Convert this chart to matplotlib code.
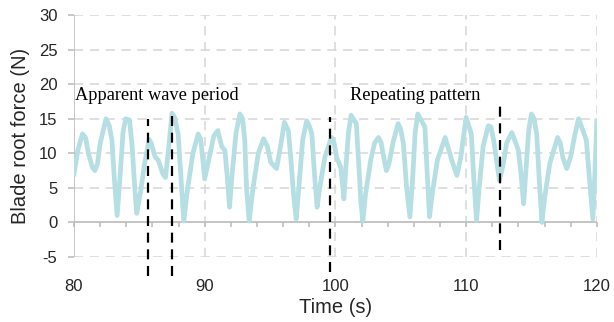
import matplotlib
matplotlib.use("Agg")
import matplotlib.pyplot as plt

plt.rcParams["axes.unicode_minus"] = False

# Data
time_s = [80.0, 80.3, 80.65, 80.9, 81.1, 81.4, 81.6, 81.8, 82.0, 82.45, 82.7, 82.9, 83.1, 83.3, 83.5,
          83.75, 83.95, 84.25, 84.45, 84.65, 84.8, 85.1, 85.4, 85.75, 85.9, 86.2, 86.45, 86.8, 87.0,
          87.2, 87.5, 87.7, 87.97, 88.2, 88.4, 88.7, 89.1, 89.5, 89.7, 90.0, 90.3, 90.7, 91.0, 91.3,
          91.55, 91.75, 91.9, 92.1, 92.4, 92.7, 92.9, 93.07, 93.2, 93.4, 93.7, 94.1, 94.5, 94.8, 95.05,
          95.5, 95.8, 96.1, 96.4, 96.6, 96.8, 97.0, 97.2, 97.5, 97.8, 98.0, 98.2, 98.4, 98.6, 98.8,
          99.2, 99.7, 99.9, 100.1, 100.4, 100.55, 100.65, 100.8, 101.0, 101.2, 101.6, 101.8, 101.95,
          102.1, 102.3, 102.7, 103.0, 103.3, 103.5, 103.65, 103.9, 104.1, 104.4, 104.8, 105.0, 105.2,
          105.45, 105.7, 105.9, 106.1, 106.3, 106.85, 107.0, 107.2, 107.4, 107.8, 108.4, 108.6, 108.9,
          109.3, 109.6, 110.0, 110.4, 110.6, 110.8, 111.0, 111.3, 111.7, 111.9, 112.1, 112.3, 112.55,
          112.8, 113.1, 113.5, 113.8, 114.0, 114.2, 114.4, 114.6, 114.8, 115.0, 115.2, 115.4, 115.6,
          115.8, 116.0, 116.4, 117.0, 117.2, 117.4, 117.7, 118.0, 118.3, 118.6, 118.8, 119.2, 119.45,
          119.7, 119.85, 120.0]
force_n = [7.0, 10.5, 12.8, 12.2, 10.0, 8.0, 7.5, 8.5, 11.4, 15.0, 14.0, 11.9, 6.0, 1.0, 6.0,
           13.0, 15.0, 14.8, 11.0, 5.0, 1.3, 4.5, 8.5, 12.0, 11.5, 9.5, 9.0, 7.0, 6.5,
           10.0, 15.8, 15.2, 12.8, 6.0, 0.2, 5.0, 10.0, 12.8, 12.0, 6.3, 9.0, 12.5, 13.3, 11.0,
           10.4, 6.0, 2.2, 7.0, 13.0, 15.7, 15.0, 11.8, 5.0, 0.2, 5.0, 10.0, 12.1, 11.0, 8.7,
           7.8, 11.0, 14.5, 13.3, 9.0, 4.0, 0.5, 5.0, 12.0, 14.7, 14.0, 12.8, 7.0, 2.2, 5.0,
           9.5, 12.3, 11.5, 9.4, 8.0, 5.5, 3.4, 8.0, 13.0, 15.5, 14.3, 8.0, 3.0,
           0.2, 4.0, 9.0, 11.5, 12.3, 11.5, 9.9, 7.5, 8.5, 11.5, 14.3, 13.5, 11.4,
           5.0, 0.8, 6.0, 13.0, 15.7, 13.8, 8.0, 0.8, 4.0, 9.0, 12.3, 11.0, 9.0,
           6.8, 9.5, 15.2, 12.8, 6.0, 0.3, 5.0, 11.0, 14.0, 13.8, 12.0, 9.4, 6.1,
           8.0, 11.5, 13.0, 11.5, 10.4, 7.0, 2.7, 8.0, 13.5, 15.7, 15.0, 12.8, 6.0,
           0.0, 3.5, 8.5, 12.3, 11.5, 9.4, 7.8, 9.5, 12.5, 15.0, 14.0, 11.9, 6.0,
           0.5, 7.0, 14.7]

marker_times = [85.7, 87.5, 99.55, 112.6]
marker_tops = [15.0, 15.5, 15.2, 17.2]
marker_bottoms = [-7.8, -7.8, -7.2, -4.0]

annotations = ["Apparent wave period", "Repeating pattern"]
annotation_x = [80.1, 101.1]
annotation_y = [18.3, 18.3]

x_ticks = [80, 90, 100, 110, 120]
y_ticks = [-5, 0, 5, 10, 15, 20, 25, 30]

GRID = "#d9d9d9"
AXIS = "#bfbfbf"
TEXT = "#262626"

fig = plt.figure(figsize=(6.14, 3.22), dpi=100)
ax = fig.add_axes([0.1205, 0.202, 0.8515, 0.751])
ax.set_xlim(80, 120)
ax.set_ylim(-5, 30)

for s in ax.spines.values():
    s.set_visible(False)

# gridlines
for yv in y_ticks:
    if yv == 0:
        continue
    ax.axhline(yv, color=GRID, lw=1.2, dashes=(5.5, 4.0), zorder=0)
for xv in x_ticks[1:]:
    ax.axvline(xv, color=GRID, lw=1.2, dashes=(5.5, 4.0), zorder=0)

# axis lines
ax.axhline(0, color=AXIS, lw=1.3, zorder=1)
ax.axvline(80, color=AXIS, lw=1.3, zorder=1)

ax.set_yticks(y_ticks)
ax.set_xticks(x_ticks)
ax.tick_params(axis="y", length=4, width=1.2, color=AXIS, pad=8, labelsize=12)
ax.tick_params(axis="x", length=0, pad=16, labelsize=12)
for lab in ax.get_xticklabels() + ax.get_yticklabels():
    lab.set_fontfamily("Liberation Sans")
    lab.set_color(TEXT)

# minor ticks on the zero line
sec = ax.secondary_xaxis(5 / 35)
sec.set_xticks(list(range(80, 121, 2)))
sec.tick_params(axis="x", length=3.5, width=1.2, color=AXIS, labelbottom=False, direction="out")
sec.spines["bottom"].set_visible(False)

ax.plot(time_s, force_n, color="#b5dfe3", lw=3.4, solid_joinstyle="round", zorder=3)

for t, top, bot in zip(marker_times, marker_tops, marker_bottoms):
    ax.plot([t, t], [bot, top], color="black", lw=1.6, dashes=(4.5, 3.0), clip_on=False, zorder=4)

for txt, xx, yy in zip(annotations, annotation_x, annotation_y):
    ax.text(xx, yy, txt, family="Liberation Serif", fontsize=13.2, va="center", ha="left", color="black")

ax.set_xlabel("Time (s)", family="Liberation Sans", fontsize=14.5, labelpad=3, color=TEXT)
ax.set_ylabel("Blade root force (N)", family="Liberation Sans", fontsize=14.5, labelpad=6, color=TEXT)

fig.savefig("out.png", dpi=100)
